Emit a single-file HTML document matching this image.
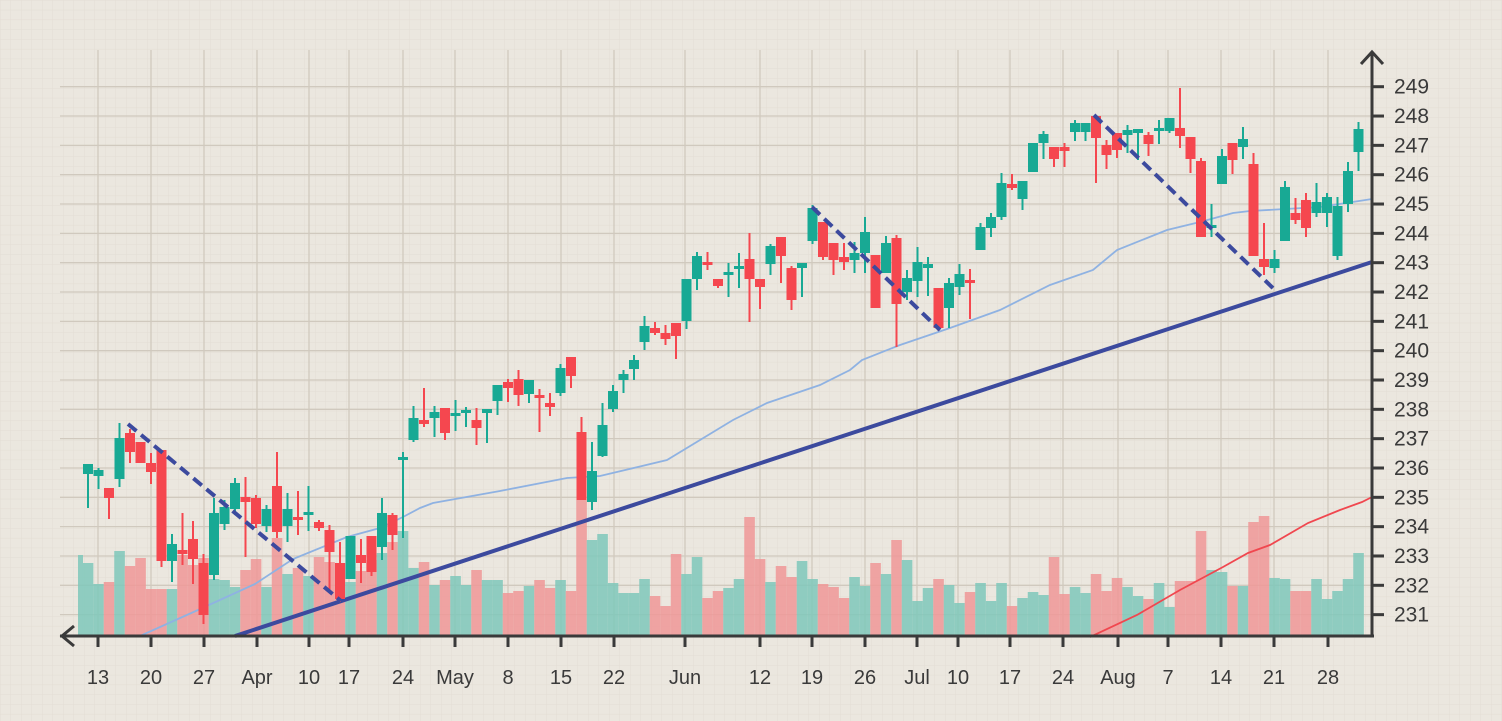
<!DOCTYPE html>
<html><head><meta charset="utf-8"><style>
html,body{margin:0;padding:0;background:#ebe7df;}
svg{display:block;}
text{font-family:"Liberation Sans",sans-serif;fill:#3a3a3a;}
</style></head><body>
<svg id="s" width="1502" height="721" xmlns="http://www.w3.org/2000/svg">
<defs>
<pattern id="minor" x="0" y="0" width="10.5" height="9.78" patternUnits="userSpaceOnUse">
<path d="M0 0H10.5M0 0V9.78" stroke="#dfd9cf" stroke-width="1" fill="none"/>
</pattern>
</defs>
<rect width="1502" height="721" fill="#ebe7df"/>
<rect width="1502" height="721" fill="url(#minor)" opacity="0.7"/>
<g id="grid"></g>
<g id="vol" opacity="0.85"></g>
<g id="lines"></g>
<g id="candles"></g>
<g id="over"></g>
<g id="axes"></g>
</svg>
<script>
const NS="http://www.w3.org/2000/svg";
function el(p,t,a){const e=document.createElementNS(NS,t);for(const k in a)e.setAttribute(k,a[k]);p.appendChild(e);return e;}
const grid=document.getElementById('grid'),vol=document.getElementById('vol'),lines=document.getElementById('lines'),cg=document.getElementById('candles'),over=document.getElementById('over'),ax=document.getElementById('axes');
const xl=[[98,"13"],[151,"20"],[204,"27"],[257,"Apr"],[309,"10"],[349,"17"],[403,"24"],[455,"May"],[508,"8"],[561,"15"],[614,"22"],[685,"Jun"],[760,"12"],[812,"19"],[865,"26"],[917,"Jul"],[958,"10"],[1010,"17"],[1063,"24"],[1118,"Aug"],[1168,"7"],[1221,"14"],[1274,"21"],[1328,"28"]];
function Y(v){return 86.7+(249-v)*29.33;}
for(const [x] of xl) el(grid,'line',{x1:x,y1:50,x2:x,y2:636,stroke:'#d0c9be','stroke-width':1.3});
for(let v=231;v<=249;v++) el(grid,'line',{x1:60,y1:Y(v),x2:1372,y2:Y(v),stroke:'#d0c9be','stroke-width':1.3});
const V=[[563,'g'],[584,'g'],[582,'r'],[551,'g'],[566,'r'],[558,'r'],[589,'r'],[589,'r'],[589,'g'],[555,'r'],[565,'r'],[558,'r'],[579,'g'],[580,'g'],[587,'g'],[570,'r'],[559,'r'],[587,'g'],[538,'r'],[574,'g'],[568,'r'],[576,'g'],[557,'r'],[562,'r'],[563,'r'],[582,'g'],[571,'r'],[560,'r'],[553,'g'],[542,'r'],[531,'g'],[568,'g'],[562,'r'],[585,'g'],[580,'r'],[576,'g'],[585,'g'],[570,'r'],[580,'g'],[580,'g'],[593,'r'],[591,'r'],[586,'g'],[580,'r'],[588,'r'],[580,'g'],[591,'r'],
[500,'r'],[540,'g'],[534,'g'],[583,'g'],[593,'g'],[593,'g'],[579,'g'],[596,'r'],[606,'r'],[554,'r'],[574,'g'],[557,'g'],[598,'r'],
[591,'r'],[588,'g'],[579,'g'],[517,'r'],[559,'r'],[582,'g'],[566,'r'],[577,'r'],[561,'g'],[579,'g'],[584,'r'],[587,'r'],[598,'r'],[577,'g'],[586,'g'],[563,'r'],[574,'g'],[540,'r'],[560,'g'],[601,'g'],[588,'g'],[579,'r'],[585,'g'],[603,'g'],[592,'r'],[583,'g'],[601,'g'],[583,'g'],[606,'r'],[598,'g'],[592,'g'],[595,'g'],[557,'r'],[594,'r'],[587,'g'],[593,'g'],[574,'r'],[591,'r'],[578,'r'],[587,'g'],[596,'g'],[599,'r'],[583,'g'],[607,'g'],[581,'r'],[581,'r'],[531,'r'],[570,'g'],[572,'g'],[586,'r'],[586,'g'],[522,'r'],[516,'r'],[578,'g'],[579,'g'],[591,'r'],[591,'r'],[579,'g'],[599,'g'],[591,'g'],[579,'g'],[553,'g']];
function cx(i){return 88+10.5*i;}
el(vol,'rect',{x:78,y:555,width:5,height:81,fill:'#7fc8bb'});
V.forEach((b,i)=>{el(vol,'rect',{x:cx(i)-5.25,y:b[0],width:10.6,height:636-b[0],fill:b[1]=='g'?'#7fc8bb':'#f09898'});});
el(lines,'polyline',{points:"140,636 198,610 255,584 293,559 347,537 380,528 403,517 420,508 433,503 500,491 567,478 600,476 667,460 733,420 767,403 820,385 850,370 862,360 900,345 950,328 1000,310 1050,285 1093,270 1117,250 1167,230 1200,222 1233,213 1250,211 1320,207 1372,199",fill:'none',stroke:'#8fb2e2','stroke-width':1.8});
el(lines,'polyline',{points:"1090,637 1137,615 1180,590 1223,567 1248,553 1270,545 1308,523 1340,510 1362,502 1372,497",fill:'none',stroke:'#f0474f','stroke-width':1.8});
el(lines,'line',{x1:235,y1:636,x2:1372,y2:262,stroke:'#3c4a9e','stroke-width':4});
const C=[[464,464,474,508,'g'],[468,470,476,489,'g'],[488,488,498,519,'r'],[423,438,479,487,'g'],[429,433,452,463,'r'],[442,442,463,463,'r'],[453,463,472,484,'r'],[450,450,561,567,'r'],[534,544,561,582,'g'],[513,550,554,565,'r'],[521,539,559,584,'r'],[554,563,615,624,'r'],[498,513,575,580,'g'],[500,507,524,530,'g'],[478,483,509,515,'g'],[477,497,502,557,'r'],[495,498,524,528,'r'],[505,509,526,532,'g'],[452,486,532,538,'r'],[493,509,526,542,'g'],[491,517,520,535,'r'],[486,512,515,531,'g'],[520,522,528,531,'r'],[525,530,552,593,'r'],[542,563,599,602,'r'],[536,536,579,560,'g'],[539,555,563,583,'r'],[536,536,572,576,'r'],[498,513,547,560,'g'],[513,515,535,550,'r'],[452,457,460,538,'g'],
[406,418,440,442,'g'],[388,420,424,427,'r'],[406,412,418,437,'g'],[408,408,433,440,'r'],[400,413,416,431,'g'],[407,410,413,427,'g'],[408,420,428,445,'r'],[409,409,413,443,'g'],[385,385,401,415,'g'],[379,382,388,402,'r'],[370,379,395,406,'r'],[380,380,394,403,'g'],[389,395,397,432,'r'],[393,403,407,416,'r'],[364,368,393,396,'g'],[357,357,376,388,'r'],[417,432,500,500,'r'],[442,471,502,510,'g'],[403,425,456,457,'g'],[385,391,409,412,'g'],[370,374,380,393,'g'],[355,360,369,380,'g'],[316,326,342,350,'g'],[322,328,333,335,'r'],[325,333,339,345,'r'],[323,323,336,359,'r'],[279,279,321,329,'g'],[252,256,279,290,'g'],[252,262,265,270,'r'],[279,279,286,288,'r'],[263,272,275,297,'g'],[253,266,269,288,'g'],[233,259,279,322,'r'],[279,279,287,309,'r'],[244,246,264,275,'g'],[237,237,256,283,'r'],[266,268,300,310,'r'],[263,263,268,297,'g'],
[205,208,241,244,'g'],[222,222,257,260,'r'],[243,243,260,275,'r'],[243,257,262,270,'r'],[242,253,260,273,'g'],[217,232,253,273,'g'],[255,255,308,308,'r'],[236,243,273,273,'g'],[235,238,304,347,'r'],[270,278,292,300,'g'],[247,262,281,297,'g'],[257,264,268,296,'g'],[288,288,328,331,'r'],[278,283,308,328,'g'],[264,274,287,295,'g'],[269,280,281,319,'r'],[223,227,250,250,'g'],[213,217,228,237,'g'],[173,183,217,220,'g'],[174,184,188,190,'r'],[181,181,199,210,'g'],[143,143,172,172,'g'],[131,134,143,159,'g'],[147,147,159,167,'r'],[143,147,151,167,'r'],[120,123,132,141,'g'],[123,123,132,141,'g'],[116,116,138,183,'r'],[140,145,155,169,'r'],[133,133,150,158,'r'],[125,130,135,153,'g'],[129,129,133,160,'g'],[132,135,144,156,'r'],[120,128,131,144,'g'],[118,118,131,133,'g'],[88,128,136,148,'r'],[137,137,159,173,'r'],[158,161,237,237,'r'],[204,225,227,237,'g'],[149,156,184,184,'g'],[143,143,160,174,'r'],[127,139,147,159,'g'],[153,164,256,256,'r'],
[223,259,267,275,'r'],[250,259,268,273,'g'],[181,187,241,241,'g'],[198,213,220,224,'r'],[193,200,228,237,'r'],[183,202,213,217,'g'],[193,197,213,227,'g'],[197,206,256,260,'g'],[162,171,204,212,'g'],[122,129,152,171,'g']];
C.forEach((c,i)=>{const x=cx(i),col=c[4]=='g'?'#18a994':'#f5474f';
el(cg,'line',{x1:x,y1:c[0],x2:x,y2:c[3],stroke:col,'stroke-width':2});
const h=Math.max(c[2]-c[1],3);el(cg,'rect',{x:x-5,y:c[1],width:10,height:h,fill:col});});
for(const d of [[128,424,341,601],[812,207,940,330],[1094,115,1277,292]])
el(over,'line',{x1:d[0],y1:d[1],x2:d[2],y2:d[3],stroke:'#3c4a9e','stroke-width':4,'stroke-dasharray':'11 6'});
el(ax,'line',{x1:60,y1:636,x2:1374,y2:636,stroke:'#3a3a3a','stroke-width':3});
el(ax,'polyline',{points:"74,626 62,636 74,646",fill:'none',stroke:'#3a3a3a','stroke-width':3});
el(ax,'line',{x1:1372,y1:52,x2:1372,y2:637,stroke:'#3a3a3a','stroke-width':3});
el(ax,'polyline',{points:"1361,64 1372,52 1383,64",fill:'none',stroke:'#3a3a3a','stroke-width':3});
for(const [x,t] of xl){el(ax,'line',{x1:x,y1:636,x2:x,y2:647,stroke:'#3a3a3a','stroke-width':3});
const e=el(ax,'text',{x:x,y:684,'font-size':20,'text-anchor':'middle'});e.textContent=t;}
for(let v=231;v<=249;v++){const y=Y(v);el(ax,'line',{x1:1372,y1:y,x2:1384,y2:y,stroke:'#3a3a3a','stroke-width':3});
const e=el(ax,'text',{x:1394,y:y+7,'font-size':21});e.textContent=String(v);}
</script>
</body></html>
